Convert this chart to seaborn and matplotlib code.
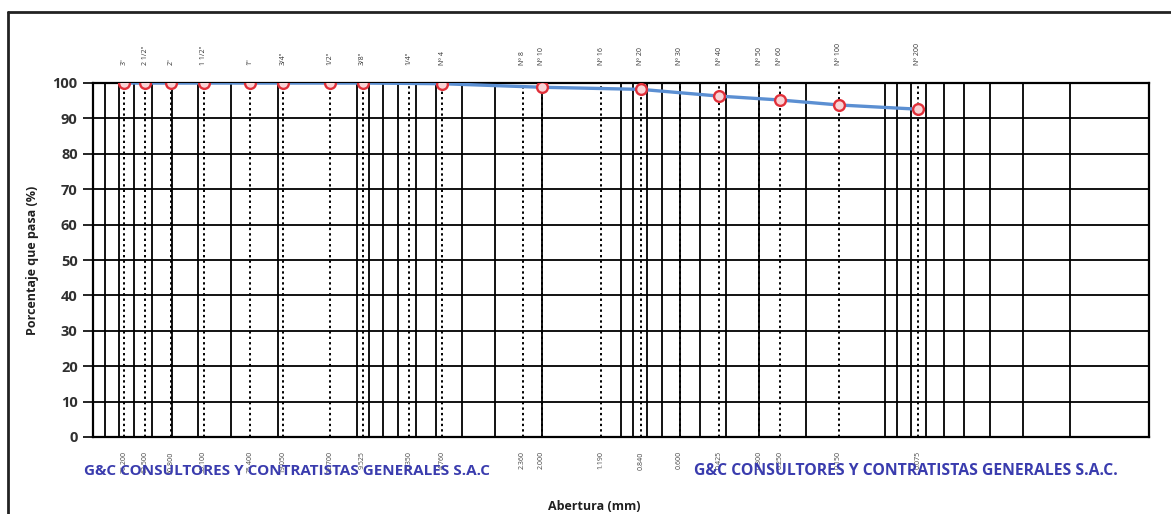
import numpy as np
import pandas as pd
import matplotlib
matplotlib.use("Agg")
import matplotlib.pyplot as plt
from matplotlib.lines import Line2D
import matplotlib.transforms as mtransforms
import seaborn as sns

# Tamices y aberturas
sieve_labels = ['3"', '2 1/2"', '2"', '1 1/2"', '1"', '3/4"', '1/2"', '3/8"', '1/4"',
                'Nº 4', 'Nº 8', 'Nº 10', 'Nº 16', 'Nº 20', 'Nº 30', 'Nº 40', 'Nº 50',
                'Nº 60', 'Nº 100', 'Nº 200']
sieve_mm = [76.2, 63.5, 50.8, 38.1, 25.4, 19.05, 12.7, 9.525, 6.35,
            4.76, 2.36, 2.0, 1.19, 0.84, 0.6, 0.425, 0.3, 0.25, 0.15, 0.075]
opening_labels = ["76.200", "63.500", "50.800", "38.100", "25.400", "19.050", "12.700",
                  "9.525", "6.350", "4.760", "2.360", "2.000", "1.190", "0.840", "0.600",
                  "0.425", "0.300", "0.250", "0.150", "0.075"]

# Ensayo: porcentaje que pasa
test_mm = [76.2, 63.5, 50.8, 38.1, 25.4, 19.05, 12.7, 9.525, 4.76, 2.0, 0.84,
           0.425, 0.25, 0.15, 0.075]
pct_pass = [100, 100, 100, 100, 100, 100, 100, 100, 99.8, 98.8, 98.2,
            96.3, 95.2, 93.8, 92.6]

y_ticks = list(range(0, 101, 10))
title = "CURVA GRANULOMÉTRICA"
company = "G&C CONSULTORES Y CONTRATISTAS GENERALES S.A.C"

sns.set_theme(style="white")
plt.rcParams['font.family'] = ['Open Sans', 'DejaVu Sans']

df = pd.DataFrame({"Abertura": test_mm, "Pasa": pct_pass})

fig = plt.figure(figsize=(11.71, 5.14), dpi=100)
ax = fig.add_axes([93 / 1171, 1 - 437 / 514, (1149 - 93) / 1171, (437 - 83) / 514])

ax.set_xscale("log")
ax.set_xlim(100, 0.01)
ax.set_ylim(0, 100)

# Cuadrícula logarítmica (líneas sólidas)
grid_x = [m * 10.0 ** e for e in range(-2, 2) for m in range(1, 10)] + [100]
for gx in grid_x:
    ax.axvline(gx, color="black", lw=1.3, zorder=1)
for gy in y_ticks:
    ax.axhline(gy, color="black", lw=1.3, zorder=1)

# Líneas punteadas en tamices
for s in sieve_mm:
    ax.axvline(s, color="black", lw=1.4, ls=(0, (1.2, 1.6)), zorder=2)

sns.lineplot(data=df, x="Abertura", y="Pasa", ax=ax, color="#5b8fd2", lw=2.4,
             zorder=3, sort=False, estimator=None)
sns.scatterplot(data=df, x="Abertura", y="Pasa", ax=ax, marker="o", s=60,
                facecolor="#f9d4d6", edgecolor="#e0303a", linewidth=1.7, zorder=4)

ax.set_xticks([])
ax.set_xticks([], minor=True)
ax.set_yticks(y_ticks)
ax.tick_params(axis="y", length=7, width=1.2, color="black", left=True,
               labelsize=10.5, labelcolor="#303030", pad=4)
for lab in ax.get_yticklabels():
    lab.set_fontweight("bold")
for sp in ax.spines.values():
    sp.set_color("black")
    sp.set_linewidth(1.6)
ax.set_xlabel("")
ax.set_ylabel("Porcentaje que pasa (%)", fontsize=9, fontweight="bold", color="#202020",
              labelpad=10)

trans = mtransforms.blended_transform_factory(ax.transData, ax.transAxes)
for s, lab in zip(sieve_mm, sieve_labels):
    ax.text(s, 1.05, lab, transform=trans, rotation=90, ha="center", va="bottom",
            fontsize=5, color="#333333")
for s, lab in zip(sieve_mm, opening_labels):
    ax.text(s, -0.04, lab, transform=trans, rotation=90, ha="center", va="top",
            fontsize=5, color="#444444")

# Marco exterior
fig.add_artist(Line2D([8 / 1171, 1.0], [1 - 12 / 514, 1 - 12 / 514], color="#222222",
                      lw=2, transform=fig.transFigure))
fig.add_artist(Line2D([8 / 1171, 8 / 1171], [0, 1 - 12 / 514], color="#222222",
                      lw=2, transform=fig.transFigure))

fig.text(596 / 1171, 0.993, title, ha="center", va="bottom", fontsize=13,
         fontweight="bold", color="#f4b8c0")

fig.text(287 / 1171, 1 - 471 / 514, company, ha="center", va="center", fontsize=11,
         fontweight="bold", color="#3a3cae")
fig.text(906 / 1171, 1 - 471 / 514, company + ".", ha="center", va="center", fontsize=11.3,
         fontweight="bold", color="#3a3cae")

fig.text(594 / 1171, 1 - 507 / 514, "Abertura (mm)", ha="center", va="center",
         fontsize=9, fontweight="bold", color="#202020")

fig.savefig("out.png", dpi=100)
